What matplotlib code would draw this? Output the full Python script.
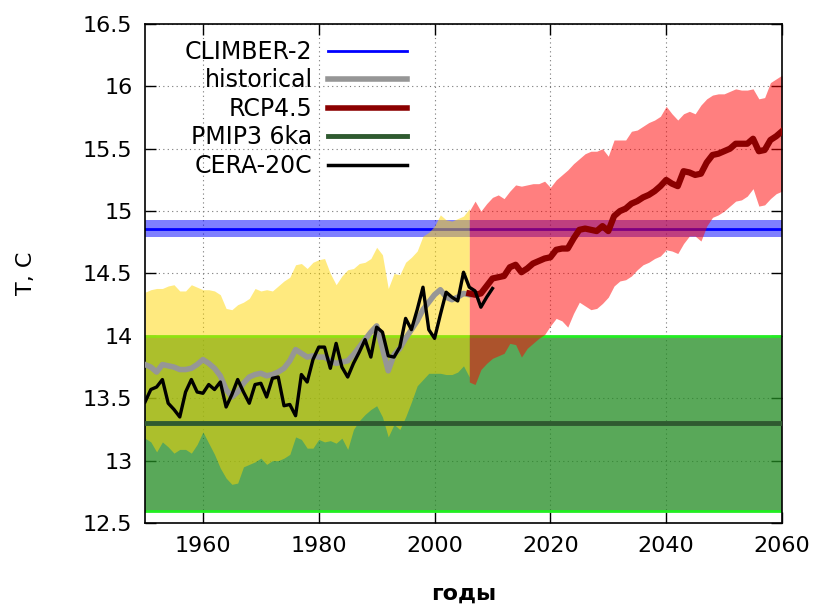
import numpy as np
import matplotlib.pyplot as plt
from matplotlib.lines import Line2D

# --- data ---
years_hist = np.arange(1950, 2007)
hist_upper = [14.35, 14.37, 14.38, 14.38, 14.40, 14.41, 14.36, 14.36, 14.41, 14.39,
              14.37, 14.37, 14.36, 14.33, 14.22, 14.21, 14.25, 14.27, 14.30, 14.38,
              14.36, 14.37, 14.36, 14.40, 14.44, 14.47, 14.57, 14.58, 14.54, 14.59,
              14.61, 14.62, 14.50, 14.41, 14.48, 14.53, 14.54, 14.58, 14.59, 14.62,
              14.71, 14.65, 14.38, 14.50, 14.49, 14.59, 14.63, 14.68, 14.80, 14.83,
              14.88, 14.97, 14.93, 14.92, 14.94, 14.96, 15.02]
hist_lower = [13.18, 13.15, 13.07, 13.15, 13.11, 13.06, 13.09, 13.09, 13.06, 13.13,
              13.23, 13.14, 13.05, 12.94, 12.86, 12.81, 12.82, 12.95, 12.97, 12.99,
              13.02, 12.97, 13.00, 13.00, 13.02, 13.05, 13.19, 13.17, 13.10, 13.10,
              13.17, 13.15, 13.16, 13.14, 13.18, 13.09, 13.25, 13.32, 13.37, 13.41,
              13.44, 13.35, 13.19, 13.29, 13.25, 13.35, 13.47, 13.60, 13.65, 13.70,
              13.70, 13.70, 13.69, 13.69, 13.71, 13.76, 13.67]
historical = [13.77, 13.75, 13.71, 13.77, 13.76, 13.75, 13.73, 13.73, 13.74, 13.77,
              13.81, 13.78, 13.74, 13.68, 13.57, 13.51, 13.55, 13.62, 13.67, 13.69,
              13.70, 13.68, 13.69, 13.71, 13.74, 13.80, 13.89, 13.86, 13.83, 13.84,
              13.83, 13.83, 13.80, 13.78, 13.79, 13.80, 13.85, 13.91, 13.97, 14.03,
              14.08, 13.90, 13.72, 13.85, 13.90, 13.98, 14.05, 14.12, 14.21, 14.27,
              14.33, 14.37, 14.31, 14.29, 14.31, 14.34, 14.33]

years_cera = np.arange(1950, 2011)
cera20c = [13.47, 13.57, 13.59, 13.65, 13.46, 13.41, 13.35, 13.55, 13.65, 13.55,
           13.54, 13.61, 13.57, 13.63, 13.43, 13.53, 13.65, 13.55, 13.46, 13.61,
           13.62, 13.51, 13.66, 13.67, 13.44, 13.45, 13.36, 13.69, 13.63, 13.81,
           13.91, 13.91, 13.74, 13.94, 13.75, 13.67, 13.78, 13.87, 13.97, 13.83,
           14.07, 14.03, 13.84, 13.83, 13.91, 14.14, 14.05, 14.21, 14.39, 14.05,
           13.98, 14.17, 14.35, 14.31, 14.28, 14.51, 14.39, 14.36, 14.23, 14.31,
           14.38]

years_rcp = np.arange(2006, 2061)
rcp45 = [14.34, 14.33, 14.34, 14.40, 14.46, 14.47, 14.48, 14.55, 14.57, 14.51,
         14.54, 14.58, 14.60, 14.62, 14.63, 14.69, 14.70, 14.70, 14.78, 14.85,
         14.86, 14.85, 14.84, 14.88, 14.84, 14.96, 15.00, 15.02, 15.06, 15.08,
         15.11, 15.13, 15.16, 15.20, 15.25, 15.22, 15.20, 15.32, 15.31, 15.29,
         15.30, 15.39, 15.45, 15.46, 15.48, 15.50, 15.54, 15.54, 15.54, 15.58,
         15.48, 15.49, 15.57, 15.60, 15.64]
rcp_upper = [15.00, 15.08, 15.00, 15.06, 15.11, 15.13, 15.10, 15.16, 15.21, 15.20,
             15.21, 15.22, 15.22, 15.24, 15.19, 15.25, 15.29, 15.33, 15.38, 15.42,
             15.46, 15.48, 15.48, 15.50, 15.44, 15.57, 15.57, 15.57, 15.64, 15.65,
             15.68, 15.71, 15.73, 15.76, 15.84, 15.78, 15.73, 15.78, 15.80, 15.78,
             15.85, 15.90, 15.93, 15.94, 15.94, 15.96, 15.98, 15.97, 15.97, 15.98,
             15.90, 15.91, 16.03, 16.06, 16.09]
rcp_lower = [13.63, 13.61, 13.73, 13.78, 13.82, 13.84, 13.86, 13.94, 13.93, 13.83,
             13.90, 13.94, 13.98, 14.01, 14.08, 14.14, 14.12, 14.07, 14.18, 14.27,
             14.24, 14.21, 14.22, 14.26, 14.31, 14.40, 14.44, 14.45, 14.48, 14.53,
             14.57, 14.59, 14.62, 14.64, 14.69, 14.68, 14.66, 14.74, 14.80, 14.80,
             14.76, 14.88, 14.95, 14.97, 15.00, 15.04, 15.08, 15.09, 15.12, 15.18,
             15.04, 15.05, 15.10, 15.14, 15.16]

climber2 = 14.86
climber2_lo, climber2_hi = 14.79, 14.93
pmip3 = 13.3
pmip3_lo, pmip3_hi = 12.6, 14.0

plt.rcParams['font.family'] = 'DejaVu Sans'

fig = plt.figure(figsize=(8.18, 6.04), dpi=100)
ax = fig.add_axes([0.1773, 0.1341, 0.7787, 0.8262])

# bands
ax.axhspan(pmip3_lo, pmip3_hi, color='#228b22', alpha=0.75, lw=0, zorder=1)
ax.axhline(pmip3_hi, color='#22ee22', lw=2, zorder=1.1)
ax.axhline(pmip3_lo, color='#22ee22', lw=2, zorder=1.1)
ax.axhspan(climber2_lo, climber2_hi, color='blue', alpha=0.5, lw=0, zorder=1.2)
ax.axhline(climber2, color='blue', lw=2, zorder=1.3)
ax.fill_between(years_hist, hist_lower, hist_upper, color='#ffd700', alpha=0.5, lw=0, zorder=2)
ax.fill_between(years_rcp, rcp_lower, rcp_upper, color='red', alpha=0.5, lw=0, zorder=2.1)

# lines
ax.axhline(pmip3, color='#2f5a30', lw=3.5, zorder=3)
ax.plot(years_hist, historical, color='#969696', lw=4, zorder=3.1)
ax.plot(years_rcp, rcp45, color='#8b0000', lw=4.5, zorder=3.2)
ax.plot(years_cera, cera20c, color='black', lw=2.4, zorder=3.3)

ax.set_xlim(1950, 2060)
ax.set_ylim(12.5, 16.5)
ax.set_xticks(np.arange(1960, 2061, 20))
yt = np.arange(12.5, 16.51, 0.5)
ax.set_yticks(yt)
ax.set_yticklabels(['%g' % v for v in yt])
ax.tick_params(direction='in', length=8, width=1, top=True, right=True,
               labelsize=16, pad=9)
ax.grid(True, linestyle=(0, (1, 3)), color='#777777', lw=0.8)
ax.set_axisbelow(True)
for s in ax.spines.values():
    s.set_linewidth(1.2)

ax.set_xlabel('годы', fontsize=16, fontweight='bold', labelpad=20)
ax.set_ylabel('T, C', fontsize=16, labelpad=34)

handles = [
    Line2D([], [], color='blue', lw=2),
    Line2D([], [], color='#969696', lw=4),
    Line2D([], [], color='#8b0000', lw=4),
    Line2D([], [], color='#2f5a30', lw=3.5),
    Line2D([], [], color='black', lw=2.5),
]
labels = ['CLIMBER-2', 'historical', 'RCP4.5', 'PMIP3 6ka', 'CERA-20C']
ax.legend(handles, labels, loc='upper right', bbox_to_anchor=(0.411, 0.968),
          frameon=False, markerfirst=False, fontsize=17, handlelength=3.35,
          handletextpad=0.64, labelspacing=0.19, borderpad=0, borderaxespad=0)

fig.savefig('out.png', dpi=100)
